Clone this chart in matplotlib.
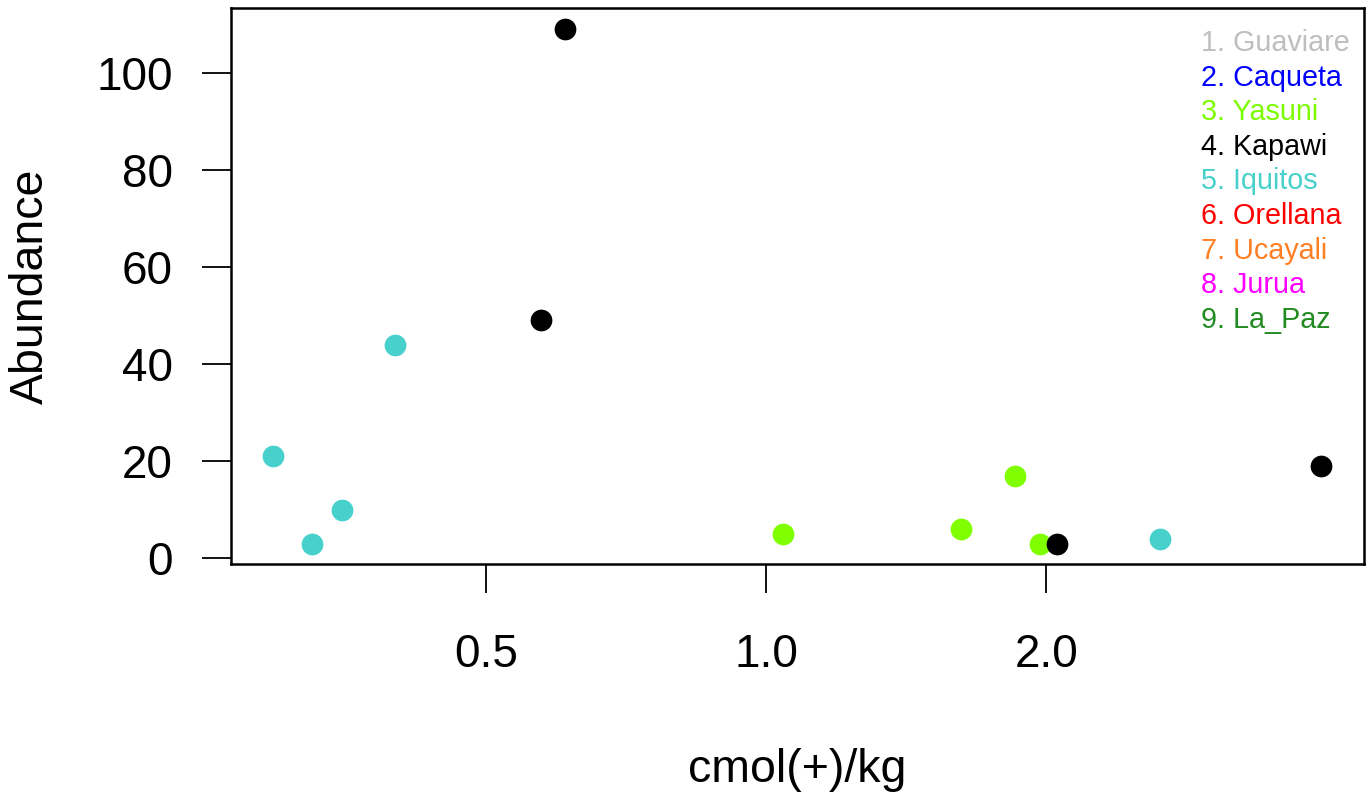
import matplotlib
matplotlib.use("Agg")
import matplotlib.pyplot as plt

plt.rcParams['font.family'] = ['Liberation Sans', 'DejaVu Sans']

# data (x on log scale)
yasuni_x = [1.043, 1.62, 1.85, 1.97]
yasuni_y = [5, 6, 17, 3]
kapawi_x = [0.608, 0.573, 2.055, 3.95]
kapawi_y = [109, 49, 3, 19]
iquitos_x = [0.295, 0.325, 0.350, 0.399, 2.65]
iquitos_y = [21, 3, 10, 44, 4]

sites = ["1. Guaviare", "2. Caqueta", "3. Yasuni", "4. Kapawi", "5. Iquitos",
         "6. Orellana", "7. Ucayali", "8. Jurua", "9. La_Paz"]
site_cols = ["#BEBEBE", "#0000FF", "#7CFC00", "#000000", "#48D1CC",
             "#FF0000", "#FF7F24", "#FF00FF", "#228B22"]

xticks = [0.5, 1.0, 2.0]
xticklabels = ["0.5", "1.0", "2.0"]
yticks = [0, 20, 40, 60, 80, 100]

fig = plt.figure(figsize=(13.72, 7.96), dpi=100)
ax = fig.add_axes([231/1372, 1-564/796, (1364-231)/1372, (564-8)/796])

ax.scatter(yasuni_x, yasuni_y, s=245, color="#7FFF00", linewidths=0, zorder=3)
ax.scatter(kapawi_x, kapawi_y, s=245, color="black", linewidths=0, zorder=3)
ax.scatter(iquitos_x, iquitos_y, s=245, color="#48D1CC", linewidths=0, zorder=3)

ax.set_xscale('log')
ax.set_xlim(0.266, 4.39)
ax.set_ylim(-1.2, 113.4)
ax.set_xticks(xticks)
ax.set_xticklabels(xticklabels)
ax.minorticks_off()
ax.set_yticks(yticks)
ax.tick_params(axis='both', direction='out', length=21, width=1.3, labelsize=33)
ax.tick_params(axis='x', pad=29)
ax.tick_params(axis='y', pad=21)
for sp in ax.spines.values():
    sp.set_linewidth(1.8)

fig.text(31/1372, 1-286/796, "Abundance", rotation=90, ha='center', va='center', fontsize=33.5)
fig.text(797/1372, 1-770/796, "cmol(+)/kg", ha='center', va='center', fontsize=33.5)

for i in range(len(sites)):
    fig.text(1201/1372, 1-(43 + i*34.6)/796, sites[i], color=site_cols[i],
             ha='left', va='center', fontsize=20.7)

fig.savefig("out.png", dpi=100)
